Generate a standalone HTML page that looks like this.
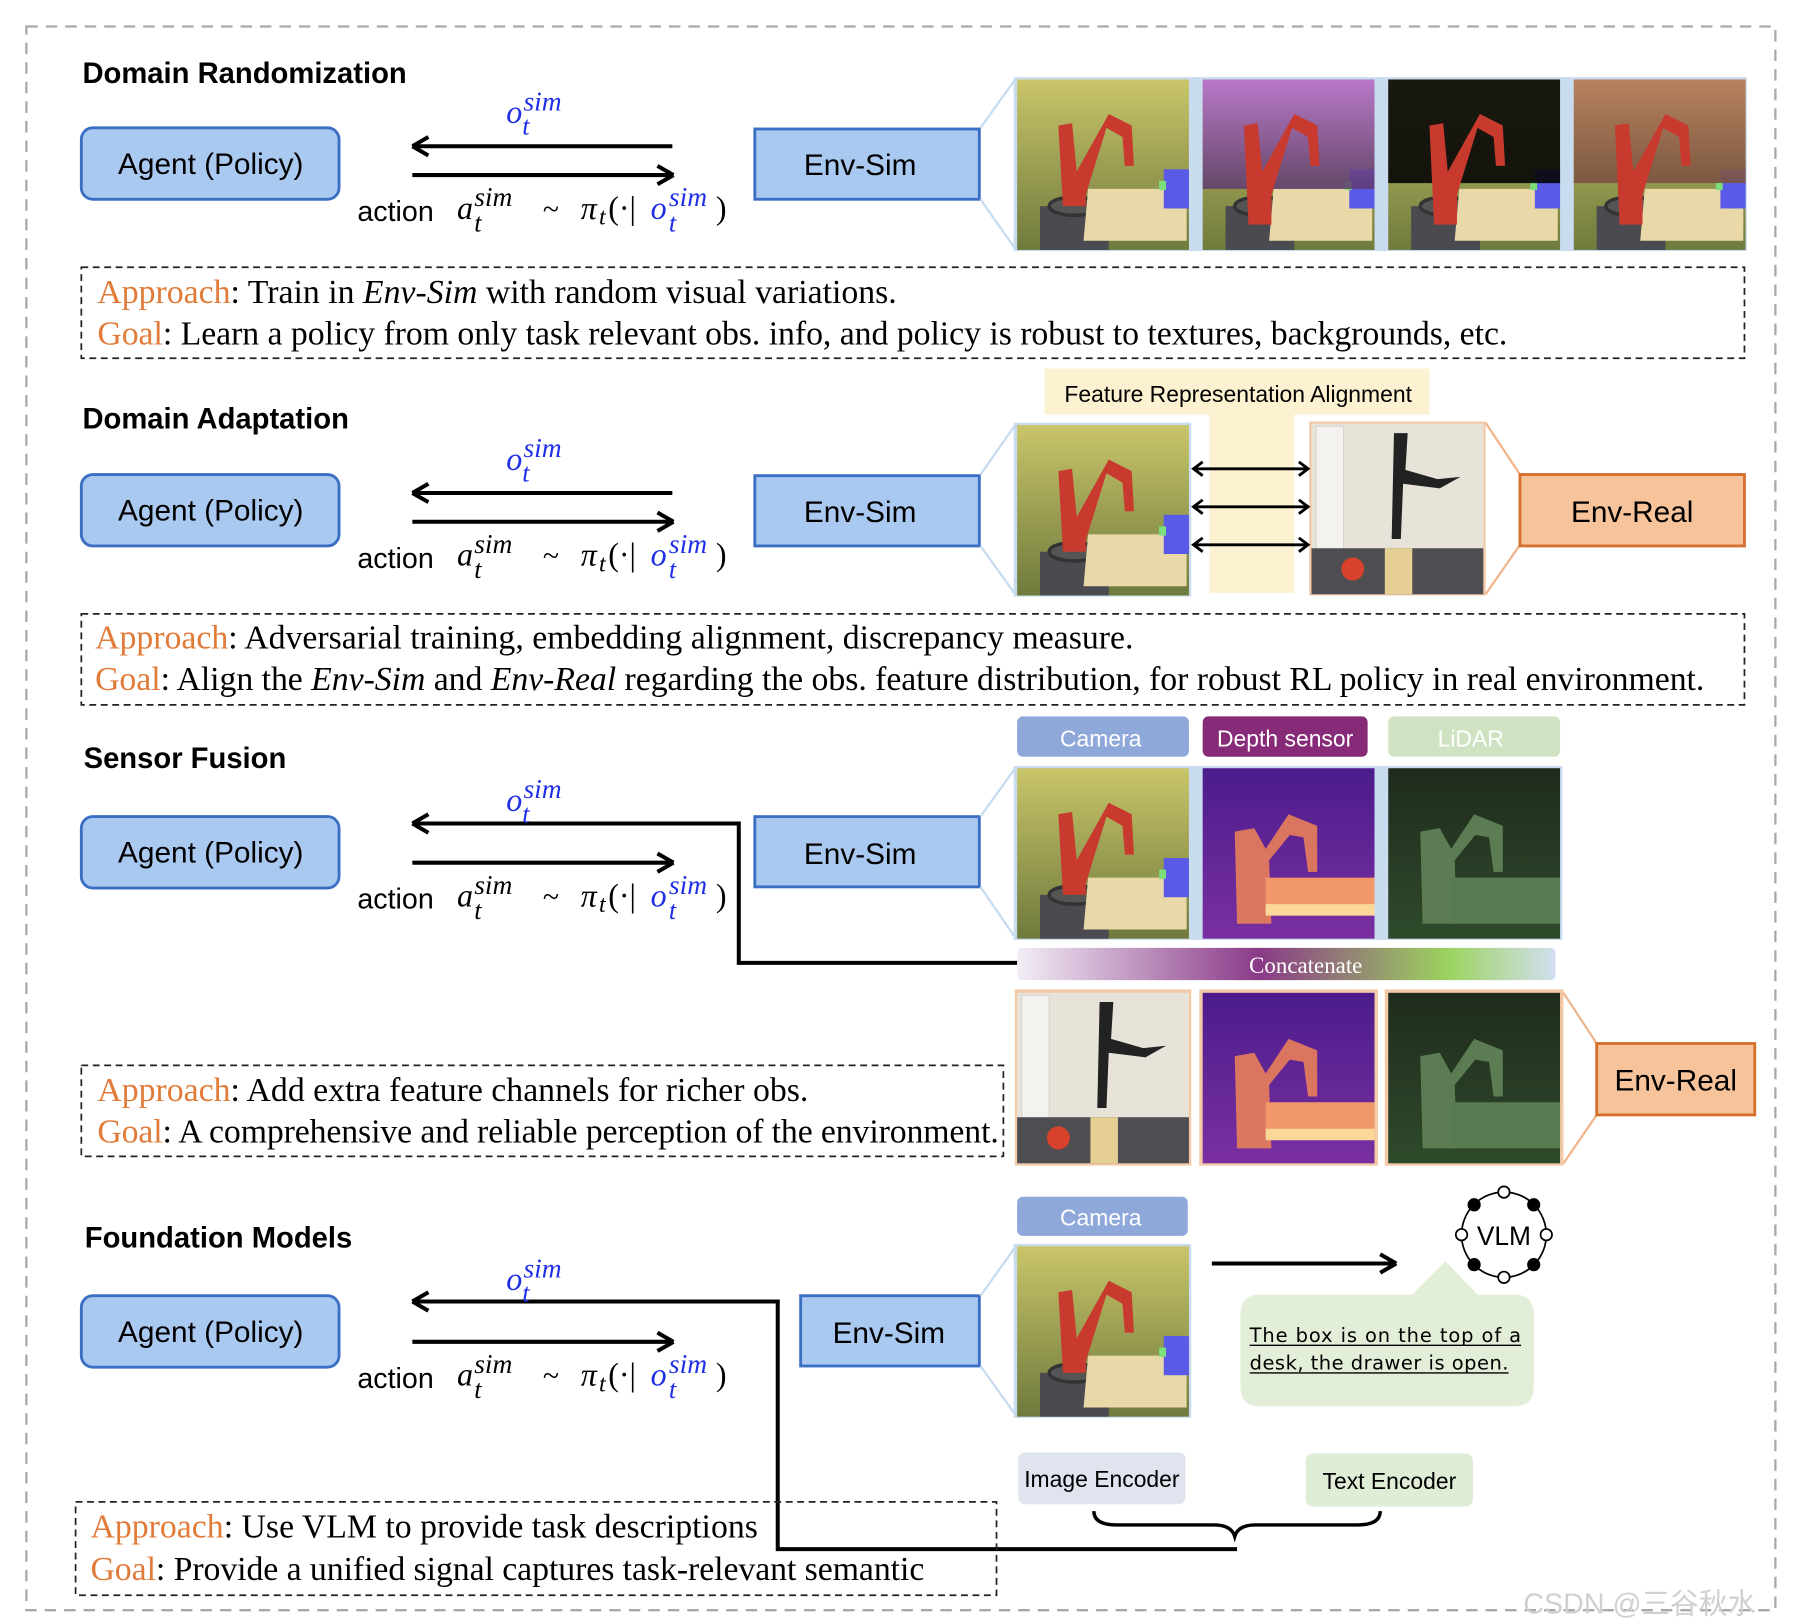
<!DOCTYPE html>
<html><head><meta charset="utf-8">
<style>
html,body{margin:0;padding:0;background:#fff;}
svg{display:block;}
.sans{font-family:"Liberation Sans","DejaVu Sans",sans-serif;}
.serif{font-family:"Liberation Serif",serif;}
</style></head>
<body>
<svg width="1796" height="1624" viewBox="0 0 1568 1410" preserveAspectRatio="none" xmlns="http://www.w3.org/2000/svg">
<defs>
 <linearGradient id="olive" x1="0" y1="0" x2="0" y2="1"><stop offset="0" stop-color="#c9c56a"/><stop offset="1" stop-color="#6f7a3c"/></linearGradient>
 <linearGradient id="purp" x1="0" y1="0" x2="0" y2="1"><stop offset="0" stop-color="#b66ad9"/><stop offset="1" stop-color="#5d3b6e"/></linearGradient>
 <linearGradient id="brown" x1="0" y1="0" x2="0" y2="1"><stop offset="0" stop-color="#b57a5e"/><stop offset="1" stop-color="#7a5240"/></linearGradient>
 <linearGradient id="depth" x1="0" y1="0" x2="0" y2="1"><stop offset="0" stop-color="#4b1c8c"/><stop offset="1" stop-color="#7a2fa0"/></linearGradient>
 <linearGradient id="lidar" x1="0" y1="0" x2="0" y2="1"><stop offset="0" stop-color="#1f2b1d"/><stop offset="1" stop-color="#2f4a2b"/></linearGradient>
 <linearGradient id="concat" x1="0" y1="0" x2="1" y2="0"><stop offset="0" stop-color="#f2eef6"/><stop offset="0.45" stop-color="#8a3a88"/><stop offset="0.8" stop-color="#9cd35e"/><stop offset="1" stop-color="#d2dff0"/></linearGradient>
 <g id="simarm">
  <rect x="0" y="0" width="150" height="148" fill="url(#olive)"/>
  <rect x="20" y="110" width="60" height="38" fill="#4a4a50"/>
  <ellipse cx="50" cy="110" rx="22" ry="8" fill="#555" stroke="#333" stroke-width="3"/>
  <path d="M40 110 L36 40 L48 38 L52 80 L80 30 L100 40 L102 75 L94 75 L92 50 L78 42 L60 100 L60 110 Z" fill="#c83a2e"/>
  <path d="M62 95 L148 95 L148 140 L58 140 Z" fill="#ead9a8"/>
  <rect x="128" y="78" width="22" height="34" fill="#5a5ae8"/>
  <rect x="124" y="88" width="6" height="8" fill="#7be07b"/>
 </g>
 <g id="realimg">
  <rect x="0" y="0" width="150" height="148" fill="#e8e3d9"/>
  <rect x="4" y="2" width="24" height="110" fill="#f4f2ee" stroke="#d8d4cc"/>
  <rect x="0" y="108" width="150" height="40" fill="#4e4e52"/>
  <rect x="64" y="108" width="24" height="40" fill="#e5cf93"/>
  <path d="M72 8 L84 8 L82 40 L110 48 L130 46 L112 56 L80 52 L78 100 L70 100 Z" fill="#222"/>
  <circle cx="36" cy="126" r="10" fill="#d8412b"/>
 </g>
 <g id="depthimg">
  <rect x="0" y="0" width="150" height="148" fill="url(#depth)"/>
  <path d="M30 135 L28 55 L45 52 L55 70 L75 40 L100 50 L100 90 L92 90 L88 60 L76 58 L58 80 L60 135 Z" fill="#e8805a" opacity="0.9"/>
  <rect x="55" y="95" width="95" height="30" fill="#f1986a"/>
  <rect x="55" y="118" width="95" height="10" fill="#fcd79a"/>
 </g>
 <g id="lidarimg">
  <rect x="0" y="0" width="150" height="148" fill="url(#lidar)"/>
  <path d="M30 135 L28 55 L45 52 L55 70 L75 40 L100 50 L100 90 L92 90 L88 60 L76 58 L58 80 L60 135 Z" fill="#5c7d53"/>
  <rect x="55" y="95" width="95" height="40" fill="#587a50"/>
 </g>
 <g id="ah"><path d="M0 0 L14 -8 M0 0 L14 8" stroke="#000" stroke-width="3.5" fill="none"/></g>
</defs>

<rect x="23" y="23" width="1527" height="1375" fill="none" stroke="#a9a9a9" stroke-width="2" stroke-dasharray="10,7"/>

<g class="sans" font-weight="bold" font-size="25.5">
 <text x="72" y="72">Domain Randomization</text>
 <text x="72" y="372">Domain Adaptation</text>
 <text x="73" y="667">Sensor Fusion</text>
 <text x="74" y="1083">Foundation Models</text>
</g>

<g fill="#aac9f1" stroke="#3b6fc4" stroke-width="2.5">
 <rect x="71" y="111" width="225" height="62" rx="10"/>
 <rect x="71" y="412" width="225" height="62" rx="10"/>
 <rect x="71" y="709" width="225" height="62" rx="10"/>
 <rect x="71" y="1125" width="225" height="62" rx="10"/>
 <rect x="659" y="112" width="196" height="61"/>
 <rect x="659" y="413" width="196" height="61"/>
 <rect x="659" y="709" width="196" height="61"/>
 <rect x="699" y="1125" width="156" height="61"/>
</g>
<g class="sans" font-size="26" text-anchor="middle">
 <text x="184" y="151">Agent (Policy)</text>
 <text x="184" y="452">Agent (Policy)</text>
 <text x="184" y="749">Agent (Policy)</text>
 <text x="184" y="1165">Agent (Policy)</text>
 <text x="751" y="152">Env-Sim</text>
 <text x="751" y="453">Env-Sim</text>
 <text x="751" y="750">Env-Sim</text>
 <text x="776" y="1166">Env-Sim</text>
</g>

<g stroke="#000" stroke-width="3.5" fill="none">
 <line x1="362" y1="127" x2="587" y2="127"/><line x1="360" y1="152" x2="586" y2="152"/>
 <line x1="362" y1="428" x2="587" y2="428"/><line x1="360" y1="453" x2="586" y2="453"/>
 <polyline points="362,715 645,715 645,836 888,836"/><line x1="360" y1="749" x2="586" y2="749"/>
 <polyline points="362,1130 679,1130 679,1345 1080,1345"/><line x1="360" y1="1165" x2="586" y2="1165"/>
 <line x1="1058" y1="1097" x2="1216" y2="1097"/>
</g>
<use href="#ah" x="360" y="127"/><use href="#ah" transform="translate(588,152) scale(-1,1)"/>
<use href="#ah" x="360" y="428"/><use href="#ah" transform="translate(588,453) scale(-1,1)"/>
<use href="#ah" x="360" y="715"/><use href="#ah" transform="translate(588,749) scale(-1,1)"/>
<use href="#ah" x="360" y="1130"/><use href="#ah" transform="translate(588,1165) scale(-1,1)"/>
<use href="#ah" transform="translate(1219,1097) scale(-1,1)"/>

<g id="math1">
 <text class="serif" font-style="italic" fill="#1f2fe6" font-size="28" x="442" y="107">o</text>
 <text class="serif" font-style="italic" fill="#1f2fe6" font-size="24" x="457" y="96">sim</text>
 <text class="serif" font-style="italic" fill="#1f2fe6" font-size="23" x="456" y="117">t</text>
 <text class="sans" font-size="25" x="312" y="192">action</text>
 <text class="serif" font-style="italic" font-size="28" x="399" y="190">a</text>
 <text class="serif" font-style="italic" font-size="24" x="414" y="179">sim</text>
 <text class="serif" font-style="italic" font-size="23" x="414" y="201">t</text>
 <text class="serif" font-size="26" x="474" y="190">~</text>
 <text class="serif" font-style="italic" font-size="28" x="507" y="190">π</text>
 <text class="serif" font-style="italic" font-size="21" x="523" y="195">t</text>
 <text class="serif" font-size="28" x="531" y="190">(·|</text>
 <text class="serif" font-style="italic" fill="#1f2fe6" font-size="28" x="568" y="190">o</text>
 <text class="serif" font-style="italic" fill="#1f2fe6" font-size="24" x="584" y="179">sim</text>
 <text class="serif" font-style="italic" fill="#1f2fe6" font-size="23" x="584" y="201">t</text>
 <text class="serif" font-size="28" x="625" y="190">)</text>
</g>
<use href="#math1" y="301"/>
<use href="#math1" y="597"/>
<use href="#math1" y="1013"/>

<rect x="885" y="67" width="640" height="151" fill="#c8dbef"/>
<line x1="856" y1="111" x2="887" y2="68" stroke="#c8dbef" stroke-width="2"/>
<line x1="856" y1="173" x2="887" y2="217" stroke="#c8dbef" stroke-width="2"/>
<use href="#simarm" x="888" y="69"/>
<g transform="translate(1050,69)"><use href="#simarm"/><rect width="150" height="95" fill="url(#purp)" opacity="0.85"/></g>
<g transform="translate(1212,69)"><use href="#simarm"/><rect width="150" height="90" fill="#050505" opacity="0.9"/></g>
<g transform="translate(1374,69)"><use href="#simarm"/><rect width="150" height="90" fill="url(#brown)" opacity="0.9"/></g>
<g fill="#c83a2e"><path d="M1090 195 L1086 109 L1098 107 L1102 149 L1130 99 L1150 109 L1152 144 L1144 144 L1142 119 L1128 111 L1110 169 L1110 195 Z"/><path d="M1252 195 L1248 109 L1260 107 L1264 149 L1292 99 L1312 109 L1314 144 L1306 144 L1304 119 L1290 111 L1272 169 L1272 195 Z"/><path d="M1414 195 L1410 109 L1422 107 L1426 149 L1454 99 L1474 109 L1476 144 L1468 144 L1466 119 L1452 111 L1434 169 L1434 195 Z"/></g>

<rect x="71" y="232" width="1452" height="79" fill="none" stroke="#222" stroke-width="1.5" stroke-dasharray="6,4"/>
<g class="serif" font-size="29.5">
 <text x="85" y="263"><tspan fill="#e07b39">Approach</tspan>: Train in <tspan font-style="italic">Env-Sim</tspan> with random visual variations.</text>
 <text x="85" y="299" textLength="1231"><tspan fill="#e07b39">Goal</tspan>: Learn a policy from only task relevant obs. info, and policy is robust to textures, backgrounds, etc.</text>
</g>

<rect x="912" y="320" width="336" height="40" fill="#fcf1d0"/>
<rect x="1056" y="358" width="74" height="157" fill="#fcf1d0"/>
<text class="sans" x="1081" y="349" font-size="20" text-anchor="middle">Feature Representation Alignment</text>
<rect x="885" y="367" width="155" height="151" fill="#c8dbef"/>
<line x1="856" y1="412" x2="887" y2="368" stroke="#c8dbef" stroke-width="2"/>
<line x1="856" y1="474" x2="887" y2="517" stroke="#c8dbef" stroke-width="2"/>
<use href="#simarm" x="888" y="369"/>
<rect x="1143" y="366" width="154" height="151" fill="#f4c9a6"/>
<use href="#realimg" x="1145" y="368"/>
<line x1="1297" y1="367" x2="1327" y2="412" stroke="#f0b78e" stroke-width="2"/>
<line x1="1297" y1="516" x2="1327" y2="473" stroke="#f0b78e" stroke-width="2"/>
<g stroke="#000" stroke-width="2.5" fill="none">
 <line x1="1042" y1="407" x2="1142" y2="407"/><line x1="1042" y1="440" x2="1142" y2="440"/><line x1="1042" y1="473" x2="1142" y2="473"/>
 <path d="M1050 401 L1042 407 L1050 413 M1134 401 L1142 407 L1134 413 M1050 434 L1042 440 L1050 446 M1134 434 L1142 440 L1134 446 M1050 467 L1042 473 L1050 479 M1134 467 L1142 473 L1134 479"/>
</g>
<rect x="1327" y="412" width="196" height="62" fill="#f6c39a" stroke="#d6702e" stroke-width="2.5"/>
<text class="sans" x="1425" y="453" font-size="26" text-anchor="middle">Env-Real</text>

<rect x="71" y="533" width="1452" height="79" fill="none" stroke="#222" stroke-width="1.5" stroke-dasharray="6,4"/>
<g class="serif" font-size="29.5">
 <text x="83" y="563"><tspan fill="#e07b39">Approach</tspan>: Adversarial training, embedding alignment, discrepancy measure.</text>
 <text x="83" y="599" textLength="1405"><tspan fill="#e07b39">Goal</tspan>: Align the <tspan font-style="italic">Env-Sim</tspan> and <tspan font-style="italic">Env-Real</tspan> regarding the obs. feature distribution, for robust RL policy in real environment.</text>
</g>

<rect x="888" y="622" width="150" height="35" rx="5" fill="#8fa8da"/>
<rect x="1050" y="622" width="144" height="35" rx="5" fill="#872a78"/>
<rect x="1212" y="622" width="150" height="35" rx="5" fill="#cfe3c3"/>
<g class="sans" font-size="20" fill="#fff" text-anchor="middle">
 <text x="961" y="648">Camera</text><text x="1122" y="648">Depth sensor</text><text x="1284" y="648">LiDAR</text>
</g>
<rect x="885" y="665" width="479" height="151" fill="#c8dbef"/>
<line x1="856" y1="709" x2="887" y2="666" stroke="#c8dbef" stroke-width="2"/>
<line x1="856" y1="770" x2="887" y2="815" stroke="#c8dbef" stroke-width="2"/>
<use href="#simarm" x="888" y="667"/>
<use href="#depthimg" x="1050" y="667"/>
<use href="#lidarimg" x="1212" y="667"/>
<rect x="888" y="823" width="470" height="28" rx="4" fill="url(#concat)"/>
<text class="serif" x="1140" y="845" font-size="20" fill="#fff" text-anchor="middle">Concatenate</text>
<rect x="886" y="859" width="154" height="153" fill="#f4c9a6"/>
<rect x="1047" y="859" width="156" height="153" fill="#f4c9a6"/>
<rect x="1209" y="859" width="156" height="153" fill="#f4c9a6"/>
<use href="#realimg" x="888" y="862"/>
<use href="#depthimg" x="1050" y="862"/>
<use href="#lidarimg" x="1212" y="862"/>
<line x1="1365" y1="862" x2="1394" y2="906" stroke="#f0b78e" stroke-width="2"/>
<line x1="1365" y1="1010" x2="1394" y2="968" stroke="#f0b78e" stroke-width="2"/>
<rect x="1394" y="906" width="138" height="62" fill="#f6c39a" stroke="#d6702e" stroke-width="2.5"/>
<text class="sans" x="1463" y="947" font-size="26" text-anchor="middle">Env-Real</text>

<rect x="71" y="925" width="805" height="79" fill="none" stroke="#222" stroke-width="1.5" stroke-dasharray="6,4"/>
<g class="serif" font-size="29.5">
 <text x="85" y="956"><tspan fill="#e07b39">Approach</tspan>: Add extra feature channels for richer obs.</text>
 <text x="85" y="992" textLength="787"><tspan fill="#e07b39">Goal</tspan>: A comprehensive and reliable perception of the environment.</text>
</g>

<rect x="888" y="1039" width="149" height="34" rx="5" fill="#8fa8da"/>
<text class="sans" x="961" y="1064" font-size="20" fill="#fff" text-anchor="middle">Camera</text>
<rect x="885" y="1080" width="155" height="151" fill="#c8dbef"/>
<line x1="856" y1="1125" x2="887" y2="1082" stroke="#c8dbef" stroke-width="2"/>
<line x1="856" y1="1186" x2="887" y2="1229" stroke="#c8dbef" stroke-width="2"/>
<use href="#simarm" x="888" y="1082"/>

<circle cx="1313" cy="1072" r="37" fill="none" stroke="#000" stroke-width="1.5"/>
<g stroke="#000" stroke-width="1.5">
 <circle cx="1313" cy="1035" r="5" fill="#fff"/><circle cx="1313" cy="1109" r="5" fill="#fff"/>
 <circle cx="1276" cy="1072" r="5" fill="#fff"/><circle cx="1350" cy="1072" r="5" fill="#fff"/>
 <circle cx="1287" cy="1046" r="5" fill="#000"/><circle cx="1339" cy="1046" r="5" fill="#000"/>
 <circle cx="1287" cy="1098" r="5" fill="#000"/><circle cx="1339" cy="1098" r="5" fill="#000"/>
</g>
<text class="sans" x="1313" y="1081" font-size="23" text-anchor="middle">VLM</text>

<path d="M1100 1124 L1233 1124 L1262 1095 L1290 1124 L1322 1124 Q1339 1124 1339 1141 L1339 1204 Q1339 1221 1322 1221 L1100 1221 Q1083 1221 1083 1204 L1083 1141 Q1083 1124 1100 1124 Z" fill="#e3eed9"/>
<g font-family="'DejaVu Sans',sans-serif" font-size="17">
 <text x="1091" y="1165" textLength="237">The box is on the top of a</text>
 <text x="1091" y="1189" textLength="226">desk, the drawer is open.</text>
</g>
<line x1="1091" y1="1168" x2="1328" y2="1168" stroke="#000" stroke-width="1.2"/>
<line x1="1091" y1="1192" x2="1317" y2="1192" stroke="#000" stroke-width="1.2"/>

<rect x="889" y="1261" width="146" height="45" rx="6" fill="#dfe4ef"/>
<rect x="1140" y="1262" width="146" height="46" rx="6" fill="#dfecd6"/>
<g class="sans" font-size="20" text-anchor="middle">
 <text x="962" y="1291">Image Encoder</text><text x="1213" y="1293">Text Encoder</text>
</g>
<path d="M955 1312 Q955 1324 975 1324 L1060 1324 Q1075 1324 1078 1334 Q1081 1324 1096 1324 L1185 1324 Q1205 1324 1205 1312" fill="none" stroke="#000" stroke-width="3"/>

<rect x="66" y="1304" width="804" height="81" fill="none" stroke="#222" stroke-width="1.5" stroke-dasharray="6,4"/>
<g class="serif" font-size="29.5">
 <text x="79" y="1335"><tspan fill="#e07b39">Approach</tspan>: Use VLM to provide task descriptions</text>
 <text x="79" y="1372" textLength="728"><tspan fill="#e07b39">Goal</tspan>: Provide a unified signal captures task-relevant semantic</text>
</g>

<text x="1330" y="1401" font-family="'Liberation Sans','Noto Sans CJK SC',sans-serif" font-size="25" fill="#d0d0d0">CSDN @三谷秋水</text>
</svg>
</body></html>
